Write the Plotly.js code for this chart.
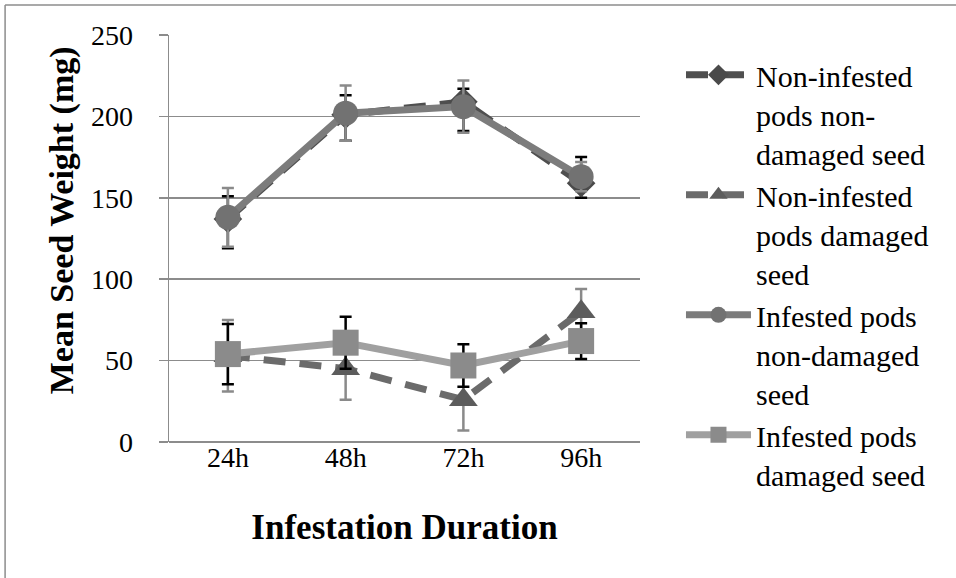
<!DOCTYPE html>
<html>
<head>
<meta charset="utf-8">
<script src="https://cdn.plot.ly/plotly-3.0.1.min.js"></script>
<style>html,body{margin:0;padding:0;background:#fff;}#chart{width:956px;height:578px;}</style>
</head>
<body>
<div id="chart"></div>
<script>
var categories = ["24h", "48h", "72h", "96h"];
var seriesNames = [
  "Non-infested<br>pods non-<br>damaged seed",
  "Non-infested<br>pods damaged<br>seed",
  "Infested pods<br>non-damaged<br>seed",
  "Infested pods<br>damaged seed"
];
var nonInfNonDam = [137, 201, 209, 159];
var nonInfNonDamErrPlus = [14, 12, 8, 16];
var nonInfNonDamErrMinus = [18, 16, 18, 9];
var nonInfDam = [53, 45, 26, 80];
var nonInfDamErr = [22, 19, 19, 14];
var infNonDam = [138, 202, 206, 163];
var infNonDamErr = [18, 17, 16, 9];
var infDam = [54, 61, 47, 62];
var infDamErr = [18.5, 16, 13, 11];
var yTicks = [0, 50, 100, 150, 200, 250];

var font = '"Liberation Serif", "Times New Roman", Times, serif';

var traces = [
  {
    x: categories, y: nonInfNonDam, name: seriesNames[0], type: "scatter", mode: "lines+markers",
    legendgroup: "g1",
    line: {color: "#4f4f4f", width: 7, dash: "22px,14px"},
    marker: {symbol: "diamond", size: 22, color: "#4a4a4a"},
    error_y: {type: "data", symmetric: false, array: nonInfNonDamErrPlus, arrayminus: nonInfNonDamErrMinus, color: "#000000", thickness: 2.5, width: 6}
  },
  {
    x: categories, y: nonInfDam, name: seriesNames[1], type: "scatter", mode: "lines+markers",
    legendgroup: "g2",
    line: {color: "#6b6b6b", width: 7, dash: "22px,14px"},
    marker: {symbol: "triangle-up", size: 25, color: "#5c5c5c"},
    error_y: {type: "data", array: nonInfDamErr, color: "#8a8a8a", thickness: 2.5, width: 6}
  },
  {
    x: categories, y: infNonDam, name: seriesNames[2], type: "scatter", mode: "lines+markers",
    legendgroup: "g3",
    line: {color: "#7c7c7c", width: 7},
    marker: {symbol: "circle", size: 25, color: "#727272"},
    error_y: {type: "data", array: infNonDamErr, color: "#8a8a8a", thickness: 2.5, width: 6}
  },
  {
    x: categories, y: infDam, name: seriesNames[3], type: "scatter", mode: "lines+markers",
    legendgroup: "g4",
    line: {color: "#a0a0a0", width: 7},
    marker: {symbol: "square", size: 26, color: "#8b8b8b"},
    error_y: {type: "data", array: infDamErr, color: "#000000", thickness: 2.5, width: 6}
  }
];

var layout = {
  width: 956, height: 578,
  margin: {l: 169, r: 316, t: 35, b: 136},
  paper_bgcolor: "#ffffff", plot_bgcolor: "#ffffff",
  font: {family: font, size: 28, color: "#000000"},
  showlegend: true,
  legend: {
    x: 1.087, y: 0.966, xanchor: "left", yanchor: "top", valign: "top",
    itemwidth: 65, maxheight: 560,
    font: {family: font, size: 30, color: "#000000"},
    bgcolor: "rgba(0,0,0,0)", tracegroupgap: 0
  },
  xaxis: {
    type: "category", range: [-0.5, 3.5],
    showgrid: false, showline: false, zeroline: false, ticks: "",
    ticklabelstandoff: -4,
    tickfont: {family: font, size: 28, color: "#000000"},
    title: {text: "<b>Infestation Duration</b>", font: {family: font, size: 35, color: "#000000"}, standoff: 42}
  },
  yaxis: {
    range: [0, 250], tickvals: yTicks, ticktext: yTicks.map(String),
    showgrid: true, gridcolor: "#8c8c8c", gridwidth: 1.5,
    zeroline: true, zerolinecolor: "#8c8c8c", zerolinewidth: 1.5,
    showline: true, linecolor: "#8c8c8c", linewidth: 1.5,
    ticks: "outside", ticklen: 9, tickcolor: "#8c8c8c", tickwidth: 1.5,
    ticklabelstandoff: 20,
    tickfont: {family: font, size: 28, color: "#000000"}
  },
  annotations: [
    {text: "<b>Mean Seed Weight (mg)</b>", xref: "paper", yref: "paper", x: -0.227, y: 0.545,
     xanchor: "center", yanchor: "middle", textangle: -90, showarrow: false,
     font: {family: font, size: 34, color: "#000000"}}
  ],
  shapes: [
    {type: "line", xref: "paper", yref: "paper", x0: -0.348, x1: 1.7, y0: 1.0737, y1: 1.0737, line: {color: "#8c8c8c", width: 1.5}},
    {type: "line", xref: "paper", yref: "paper", x0: -0.348, x1: -0.348, y0: 1.0737, y1: -0.4, line: {color: "#8c8c8c", width: 1.5}}
  ]
};

Plotly.newPlot("chart", traces, layout, {displayModeBar: false, staticPlot: true});
</script>
</body>
</html>
